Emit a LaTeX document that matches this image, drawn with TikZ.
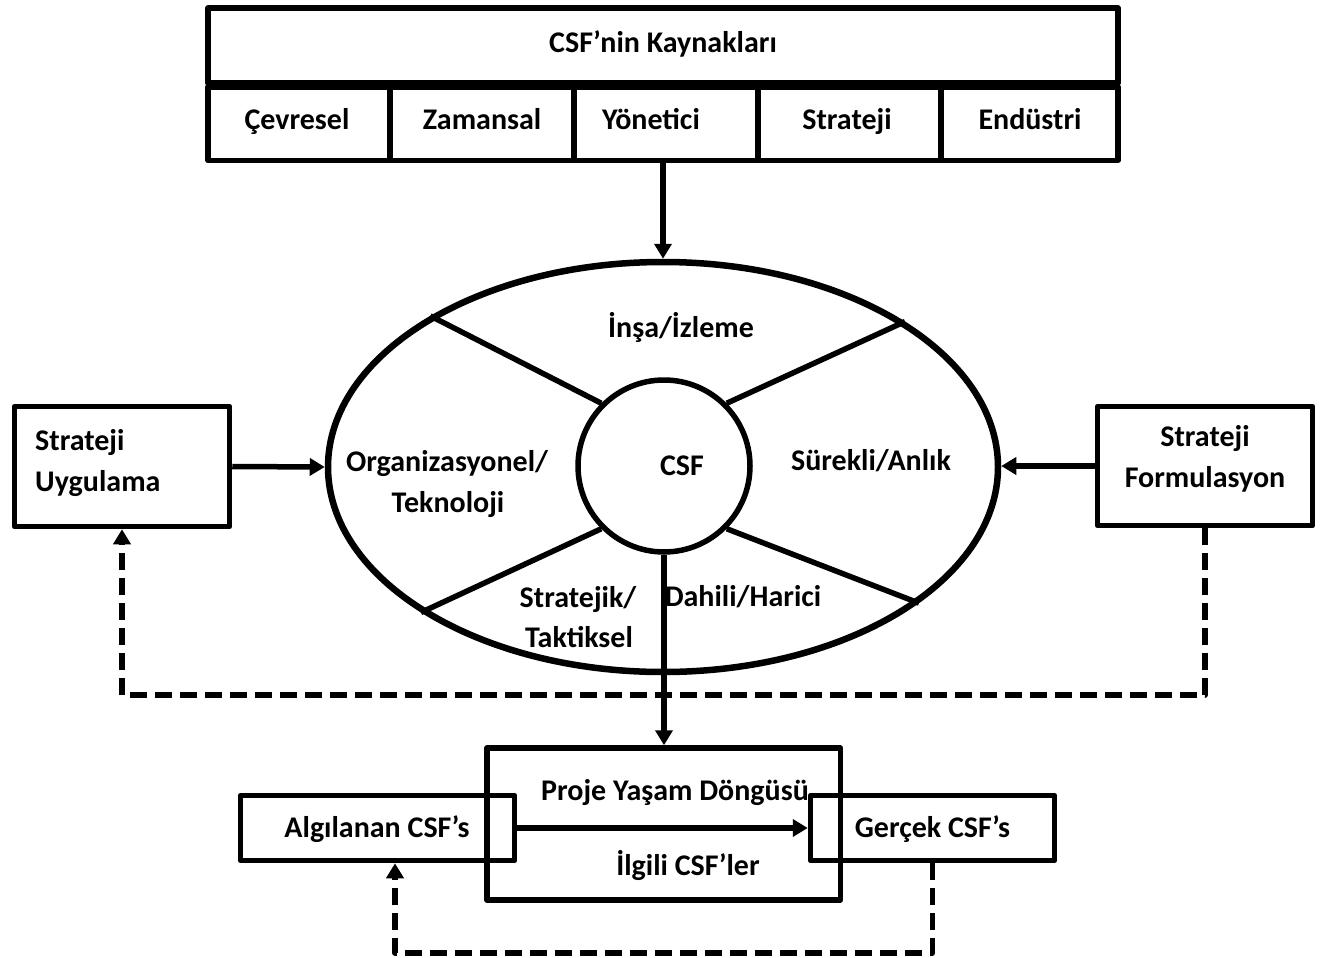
\documentclass[tikz,border=0pt]{standalone}
\usepackage{fontspec}
\setmainfont{Carlito}
\usetikzlibrary{arrows.meta,shapes.geometric}
\newcommand{\lblfont}{\fontsize{30}{36}\selectfont\bfseries}

\begin{document}
\begin{tikzpicture}[x=1pt,y=-1pt,
  box/.style={draw, rectangle, line width=5.5pt, line join=round, inner sep=0pt},
  lbl/.style={font=\lblfont, inner sep=0pt, text height=19pt, text depth=0pt},
  ln/.style={line width=5.5pt},
  arr/.style={line width=5.5pt, -{Triangle[length=15pt,width=17pt]}},
  dsh/.style={line width=5.5pt, line join=round, dash pattern=on 17pt off 8pt,
              -{Triangle[length=15pt,width=17pt]}},
]
\useasboundingbox[fill=white] (0,0) rectangle (1322,958);

% sources of CSFs: header and five cells
\node[box, minimum width=910pt, minimum height=75pt] (hdr) at (663,45.5) {};
\node[lbl] (hdrt) at (663,43) {CSF’nin Kaynakları};
\node[box, minimum width=182pt, minimum height=73.5pt] (cev) at (299,123.75) {};
\node[box, minimum width=184pt, minimum height=73.5pt] (zam) at (482,123.75) {};
\node[box, minimum width=184pt, minimum height=73.5pt] (yon) at (666,123.75) {};
\node[box, minimum width=183pt, minimum height=73.5pt] (str) at (849.5,123.75) {};
\node[box, minimum width=177pt, minimum height=73.5pt] (end) at (1029.5,123.75) {};
\node[lbl] (cevt) at (297,120) {Çevresel};
\node[lbl] (zamt) at (482,120) {Zamansal};
\node[lbl] (yont) at (651,120) {Yönetici};
\node[lbl] (strt) at (847,120) {Strateji};
\node[lbl] (endt) at (1030,120) {Endüstri};

% CSF ellipse with central circle and spokes
\node[draw, ellipse, line width=6.5pt, minimum width=670pt, minimum height=410pt, inner sep=0pt] (ell) at (663,467) {};
\node[draw, circle, line width=5.5pt, minimum size=172pt, inner sep=0pt] (hub) at (664,466) {};
\node[lbl] (hubt) at (682,466) {CSF};
\draw[ln] (hub.135) -- (ell.147.8);
\draw[ln] (hub.45) -- (ell.31.9);
\draw[ln] (hub.225) -- (ell.211.9);
\draw[ln] (hub.315) -- (ell.332.1);

\node[lbl] (t1) at (681,328) {İnşa/İzleme};
\node[lbl] (t2a) at (447,462) {Organizasyonel/};
\node[lbl] (t2b) at (448,503) {Teknoloji};
\node[lbl] (t3) at (871,461) {Sürekli/Anlık};
\node[lbl] (t4a) at (578,598) {Stratejik/};
\node[lbl] (t4b) at (579,638) {Taktiksel};
\node[lbl] (t5) at (743,597) {Dahili/Harici};

% strategy boxes
\node[box, minimum width=215pt, minimum height=120pt] (su) at (122,466.5) {};
\node[lbl, anchor=west] (suta) at (35,441) {Strateji};
\node[lbl, anchor=west] (sutb) at (35,482) {Uygulama};
\node[box, minimum width=215pt, minimum height=119pt] (sf) at (1205,466) {};
\node[lbl] (sfta) at (1205,437) {Strateji};
\node[lbl] (sftb) at (1205,478) {Formulasyon};

% project life cycle
\node[box, minimum width=353.5pt, minimum height=152pt] (pl) at (663.75,824) {};
\node[lbl] (plt) at (675,791) {Proje Yaşam Döngüsü};
\node[lbl] (plb) at (688,866) {İlgili CSF’ler};
\node[box, minimum width=274pt, minimum height=65pt] (al) at (377.5,828) {};
\node[lbl] (alt) at (377,828) {Algılanan CSF’s};
\node[box, minimum width=244pt, minimum height=65pt] (ge) at (932.5,828) {};
\node[lbl] (get) at (932.5,828) {Gerçek CSF’s};

% connectors
\draw[arr] (ell.north |- yon.south) -- (ell.north);
\draw[arr] (su.east) -- (ell.west);
\draw[arr] (sf.west) -- (sf.west -| ell.east);
\draw[arr] (hub.south) -- (hub.south |- pl.north);
\draw[arr] (al.east) -- (ge.west);

% feedback loops
\coordinate (fbk) at (0,695);
\draw[dsh] (sf.south) -- (sf.south |- fbk) -- (su.south |- fbk) -- (su.south);
\coordinate (lbk) at (395,953);
\draw[dsh] (ge.south) -- (ge.south |- lbk) -- (lbk) -- (lbk |- al.south);
\end{tikzpicture}
\end{document}
